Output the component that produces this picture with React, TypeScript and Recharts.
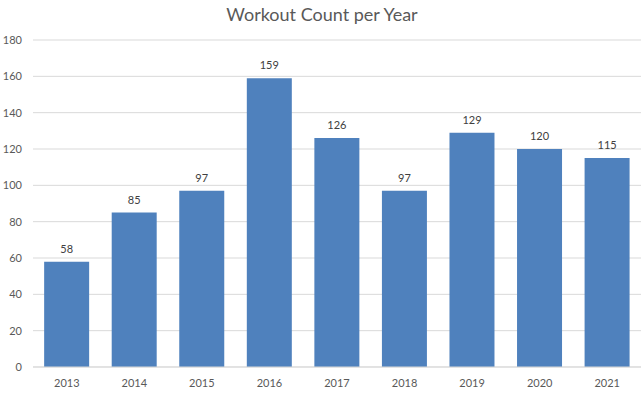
import { BarChart, Bar, XAxis, YAxis, CartesianGrid, LabelList } from "recharts";

const years = ["2013", "2014", "2015", "2016", "2017", "2018", "2019", "2020", "2021"];
const workouts = [58, 85, 97, 159, 126, 97, 129, 120, 115];
const yTicks = [0, 20, 40, 60, 80, 100, 120, 140, 160, 180];

const chartData = years.map((year, i) => ({ year, count: workouts[i] }));

const font = "Lato, 'Open Sans', sans-serif";

export default function App() {
  return (
    <div style={{ position: "absolute", left: 0, top: 0, width: 644, height: 395, background: "#fff", fontFamily: font }}>
      <div
        style={{
          position: "absolute",
          top: 3,
          left: 0,
          width: 644,
          textAlign: "center",
          fontSize: 18,
          color: "#595959",
        }}
      >
        Workout Count per Year
      </div>
      <BarChart
        width={644}
        height={395}
        data={chartData}
        margin={{ top: 40, right: 3, bottom: 0, left: 0 }}
        barCategoryGap="16.5%"
      >
        <CartesianGrid vertical={false} stroke="#d9d9d9" />
        <XAxis
          dataKey="year"
          height={28}
          tickLine={false}
          axisLine={{ stroke: "#d9d9d9" }}
          tick={{ fill: "#595959", fontSize: 11, fontFamily: font }}
          tickMargin={6}
        />
        <YAxis
          width={33}
          domain={[0, 180]}
          ticks={yTicks}
          axisLine={false}
          tickLine={false}
          tick={{ fill: "#595959", fontSize: 11, fontFamily: font }}
          tickMargin={5}
        />
        <Bar dataKey="count" fill="#4f81bd" isAnimationActive={false}>
          <LabelList
            dataKey="count"
            position="top"
            offset={9}
            style={{ fill: "#404040", fontSize: 11, fontFamily: font }}
          />
        </Bar>
      </BarChart>
    </div>
  );
}
